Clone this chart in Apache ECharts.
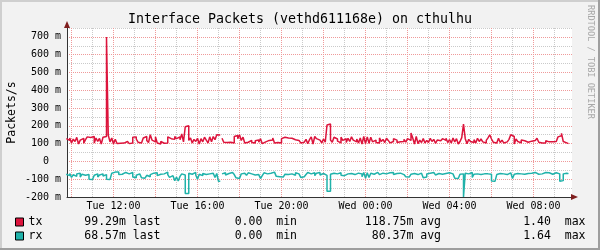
<!DOCTYPE html>
<html><head><meta charset="utf-8">
<script src="https://cdn.jsdelivr.net/npm/echarts@6/dist/echarts.min.js"></script>
<style>html,body{margin:0;padding:0;background:#f2f2f2}#c{width:600px;height:250px}</style>
</head><body><div id="c"></div>
<script>
const titleText = 'Interface Packets (vethd611168e) on cthulhu';
const yAxisTitle = 'Packets/s';
const watermarkText = 'RRDTOOL / TOBI OETIKER';

// time in hours since Tue 00:00, one sample every 5 minutes starting Tue 09:45
const startHour = 9.75;
const stepHours = 5 / 60;
const xMin = 9.7857;
const xMax = 33.8333;

// values in milli-packets/s (m)
const txValues = [
  128,118,132,104,125,112,135,98,120,130,102,122,
  138,135,126,140,104,131,112,129,98,136,140,700,
  148,110,132,98,125,101,102,104,103,101,112,104,
  100,104,136,138,126,108,104,106,132,140,118,106,
  150,120,110,138,104,98,112,102,106,104,138,128,
  134,124,140,128,138,122,154,110,195,200,118,132,
  104,124,112,130,98,128,110,136,120,104,138,110,
  140,122,150,148,null,130,108,106,106,108,106,104,
  140,146,128,150,118,136,104,108,112,118,106,104,
  116,120,108,128,100,110,104,118,112,120,132,104,
  106,110,104,128,136,140,132,138,130,134,122,128,
  118,110,104,108,116,124,100,122,138,98,140,128,
  120,112,104,126,108,205,210,120,108,136,126,114,
  104,136,118,128,106,130,112,138,120,110,126,104,
  132,98,140,100,138,102,136,110,120,106,104,132,
  112,124,106,130,118,104,112,128,120,106,110,116,
  112,124,108,128,118,160,132,98,140,100,120,106,
  128,104,118,106,130,112,124,102,120,116,106,128,
  118,130,106,122,104,132,110,128,98,112,134,210,
  128,100,124,112,106,122,104,130,112,126,110,104,
  118,132,150,126,108,104,112,130,106,120,104,110,
  118,124,150,140,98,126,112,104,120,116,112,108,
  110,114,112,118,112,130,108,104,112,104,116,110,
  104,110,106,112,108,138,144,158,112,104,100,99.29
];
const rxValues = [
  -72,-80,-68,-90,-75,-84,-70,-66,-88,-72,-78,-70,
  -74,-100,-102,-98,-78,-70,-88,-76,-70,-82,-74,-100,
  -102,-96,-66,-60,-62,-60,-74,-72,-74,-62,-66,-70,
  -64,-62,-88,-92,-78,-70,-68,-92,-94,-84,-78,-86,
  -74,-66,-70,-64,-80,-72,-64,-70,-66,-60,-74,-90,
  -80,-72,-108,-88,-110,-84,-70,-76,-180,-180,-66,-72,
  -70,-62,-76,-100,-72,-80,-68,-74,-84,-70,-78,-66,
  -74,-90,-68,-112,null,-70,-64,-76,-68,-72,-62,-70,
  -74,-92,-96,-88,-70,-66,-72,-78,-64,-70,-62,-76,
  -68,-74,-72,-96,-80,-64,-70,-62,-66,-72,-60,-68,
  -84,-86,-90,-88,-80,-72,-74,-66,-70,-62,-78,-64,
  -70,-66,-90,-86,-92,-74,-62,-70,-68,-64,-80,-66,
  -62,-76,-68,-74,-78,-168,-168,-72,-66,-74,-70,-68,
  -64,-78,-80,-72,-70,-66,-68,-62,-74,-70,-66,-72,
  -70,-86,-62,-94,-64,-90,-66,-72,-70,-62,-68,-74,
  -66,-72,-70,-80,-64,-70,-62,-74,-68,-72,-66,-70,
  -74,-80,-86,-88,-90,-72,-68,-64,-74,-70,-66,-72,
  -92,-88,-70,-66,-74,-62,-70,-76,-68,-64,-72,-70,
  -68,-74,-64,-72,-70,-66,-94,-96,-90,-72,-70,-200,
  -66,-70,-68,-62,-90,-72,-70,-64,-74,-66,-70,-62,
  -70,-66,-72,-110,-112,-108,-74,-68,-62,-70,-66,-74,
  -70,-64,-66,-96,-72,-68,-62,-70,-66,-72,-64,-68,
  -74,-66,-70,-62,-68,-72,-64,-70,-66,-62,-68,-64,
  -66,-72,-70,-64,-68,-70,-112,-108,-70,-66,-64,-68.57
];

const xLabelHours = [12, 16, 20, 24, 28, 32];
const xLabelTexts = ['Tue 12:00', 'Tue 16:00', 'Tue 20:00', 'Wed 00:00', 'Wed 04:00', 'Wed 08:00'];
const xGridHours = [10,11,12,13,14,15,16,17,18,19,20,21,22,23,24,25,26,27,28,29,30,31,32,33];
const yTickValues = [-200, -100, 0, 100, 200, 300, 400, 500, 600, 700];
const yTickLabels = ['-200 m', '-100 m', '0  ', '100 m', '200 m', '300 m', '400 m', '500 m', '600 m', '700 m'];

const seriesNames = ['tx', 'rx'];
const seriesColors = ['#DC143C', '#20B2AA'];
const lastVals = ['99.29m', '68.57m'];
const minVals = ['0.00', '0.00'];
const avgVals = ['118.75m', '80.37m'];
const maxVals = ['1.40', '1.64'];

const MONO = 'DejaVu Sans Mono';
const majorGrid = '#ef9a9a';
const minorGrid = '#cacaca';
const axisColor = '#333333';
const arrowColor = '#801F1F';

function toPoints(vals) {
  return vals.map((v, i) => [startHour + i * stepHours, v]);
}

const chart = echarts.init(document.getElementById('c'), null, {renderer: 'canvas'});
const legendFont = 11.5;
const rich = {
  n: {width: 55, fontFamily: MONO, fontSize: legendFont, color: '#000'},
  a: {width: 77, align: 'right', fontFamily: MONO, fontSize: legendFont, color: '#000'},
  b: {width: 136.5, align: 'right', fontFamily: MONO, fontSize: legendFont, color: '#000'},
  c: {width: 144, align: 'right', fontFamily: MONO, fontSize: legendFont, color: '#000'},
  d: {width: 144.5, align: 'right', fontFamily: MONO, fontSize: legendFont, color: '#000'}
};

chart.setOption({
  animation: false,
  backgroundColor: '#f2f2f2',
  title: {
    text: titleText, left: 'center', top: 12, padding: 0,
    textStyle: {fontFamily: MONO, fontSize: 13.3, fontWeight: 'normal', color: '#000', lineHeight: 15}
  },
  grid: {left: 67, top: 28, width: 505, height: 169, show: true, backgroundColor: '#ffffff', borderWidth: 0,
    containLabel: false, outerBoundsMode: 'none'},
  legend: {
    orient: 'vertical', left: 15, top: 215, padding: 0, itemGap: 0,
    itemWidth: 8, itemHeight: 8, icon: 'rect', selectedMode: false,
    itemStyle: {borderColor: '#000', borderWidth: 1},
    data: seriesNames,
    textStyle: {fontFamily: MONO, fontSize: legendFont, color: '#000', lineHeight: 14, rich: rich},
    formatter: function (name) {
      const k = seriesNames.indexOf(name);
      return '{n|' + name + '}{a|' + lastVals[k] + ' last}{b|' + minVals[k] + '  min}{c|' + avgVals[k] + ' avg}{d|' + maxVals[k] + '  max}';
    }
  },
  graphic: [
    {type: 'rect', shape: {x: 0, y: 0, width: 600, height: 2}, style: {fill: '#cfcfcf'}, silent: true},
    {type: 'rect', shape: {x: 0, y: 0, width: 2, height: 250}, style: {fill: '#cfcfcf'}, silent: true},
    {type: 'rect', shape: {x: 0, y: 248, width: 600, height: 2}, style: {fill: '#9e9e9e'}, silent: true},
    {type: 'rect', shape: {x: 598, y: 0, width: 2, height: 250}, style: {fill: '#9e9e9e'}, silent: true},
    {type: 'text', x: 590, y: 62, rotation: -Math.PI / 2, silent: true,
     style: {text: watermarkText, fontFamily: MONO, fontSize: 8.6, fill: '#a8a8a8', align: 'center', verticalAlign: 'middle'}}
  ],
  xAxis: [{
    type: 'value', min: xMin, max: xMax, position: 'bottom',
    axisLine: {show: true, onZero: false, lineStyle: {color: axisColor, width: 1}},
    axisTick: {show: false, customValues: xGridHours},
    axisLabel: {
      customValues: xLabelHours, margin: 4,
      fontFamily: MONO, fontSize: 10, color: '#000',
      formatter: function (v) { const k = xLabelHours.indexOf(Math.round(v)); return k >= 0 ? xLabelTexts[k] : ''; }
    },
    splitLine: {show: true, lineStyle: {color: [majorGrid, minorGrid], type: [1, 1], width: 1}}
  }, {
    type: 'value', min: xMin, max: xMax, position: 'bottom',
    axisLine: {show: true, onZero: false, symbol: ['none', 'triangle'], symbolSize: [6, 7], symbolOffset: [0, 2.5],
      lineStyle: {color: arrowColor, width: 0}},
    axisTick: {show: false}, axisLabel: {show: false}, splitLine: {show: false}
  }],
  yAxis: [{
    type: 'value', min: -200, max: 750, interval: 50, position: 'left',
    name: yAxisTitle, nameLocation: 'middle', nameRotate: 90, nameGap: 49, nameMoveOverlap: false,
    nameTextStyle: {fontFamily: MONO, fontSize: 11.5, color: '#000'},
    axisLine: {show: true, onZero: false, lineStyle: {color: axisColor, width: 1}},
    axisTick: {show: false},
    axisLabel: {
      margin: 6, fontFamily: MONO, fontSize: 10, color: '#000',
      formatter: function (v) { const k = yTickValues.indexOf(Math.round(v)); return k >= 0 && Math.abs(v - Math.round(v)) < 1e-6 ? yTickLabels[k] : ''; }
    },
    splitLine: {show: true, lineStyle: {color: [majorGrid, minorGrid], type: [1, 1], width: 1}}
  }, {
    type: 'value', min: -200, max: 750, position: 'left', offset: 0,
    axisLine: {show: true, onZero: false, symbol: ['none', 'triangle'], symbolSize: [6, 7], symbolOffset: [0, 3.5],
      lineStyle: {color: arrowColor, width: 0}},
    axisTick: {show: false}, axisLabel: {show: false}, splitLine: {show: false}
  }],
  series: seriesNames.map(function (name, k) {
    return {
      name: name, type: 'line', step: 'end', xAxisIndex: 0, yAxisIndex: 0,
      data: toPoints(k === 0 ? txValues : rxValues),
      showSymbol: false, symbol: 'none', connectNulls: false,
      lineStyle: {color: seriesColors[k], width: 1.5},
      itemStyle: {color: seriesColors[k]},
      emphasis: {disabled: true}, silent: true, z: 3
    };
  })
});
</script>
</body></html>
